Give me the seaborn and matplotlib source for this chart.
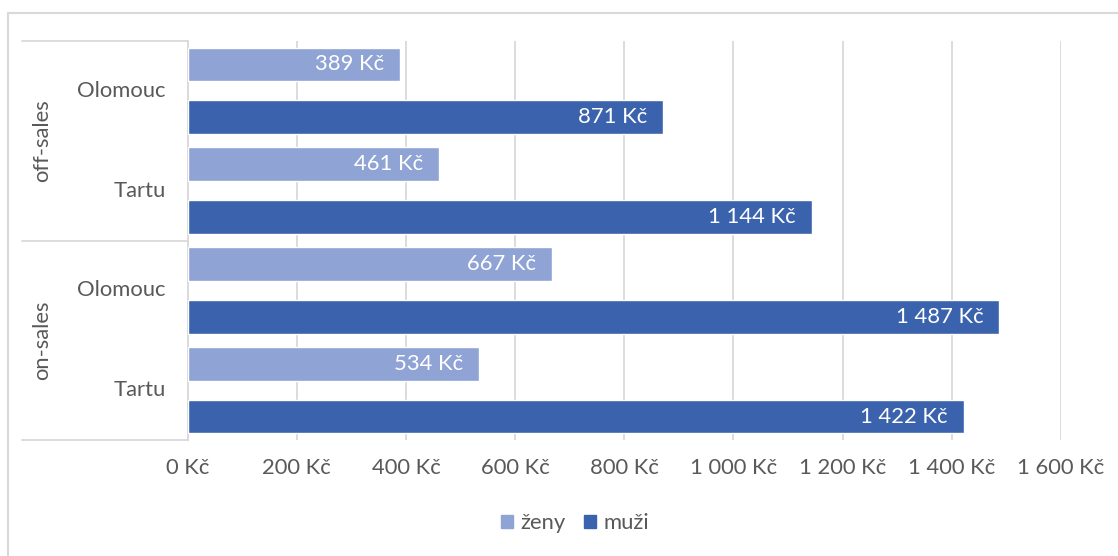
import matplotlib
matplotlib.use("Agg")
import matplotlib.pyplot as plt
import matplotlib.transforms as mtransforms
from matplotlib.ticker import FuncFormatter
import seaborn as sns
import pandas as pd

# ---- data -------------------------------------------------------------
channels = ["off-sales", "off-sales", "on-sales", "on-sales"]
cities = ["Olomouc", "Tartu", "Olomouc", "Tartu"]
genders = ["ženy", "muži"]
zeny = [389, 461, 667, 534]
muzi = [871, 1144, 1487, 1422]
x_ticks = [0, 200, 400, 600, 800, 1000, 1200, 1400, 1600]

colors = {"ženy": "#8FA3D5", "muži": "#3B63AD"}
text_gray = "#595959"
line_gray = "#D9D9D9"
FONT = "Lato"
FS = 15.8

rows = []
for ch, city, z, m in zip(channels, cities, zeny, muzi):
    key = f"{ch}|{city}"
    rows.append({"cat": key, "pohlaví": "ženy", "cena": z})
    rows.append({"cat": key, "pohlaví": "muži", "cena": m})
df = pd.DataFrame(rows)


def kc(v):
    return f"{int(round(v)):,}".replace(",", " ") + " Kč"


sns.set_theme(style="white")
plt.rcParams["font.family"] = [FONT, "DejaVu Sans"]

fig = plt.figure(figsize=(11.18, 5.56), dpi=100)
ax = fig.add_axes([187.5 / 1118, 1 - 440 / 556, (1061 - 187.5) / 1118, (440 - 41) / 556])

sns.barplot(data=df, y="cat", x="cena", hue="pohlaví", hue_order=genders,
            palette=colors, orient="h", width=1.06, gap=0.36,
            saturation=1, errorbar=None, ax=ax, zorder=3)

ax.set_xlim(0, 1600)
ax.set_ylim(3.5, -0.5)
ax.set_xticks(x_ticks)
ax.xaxis.set_major_formatter(FuncFormatter(lambda v, p: kc(v)))
ax.tick_params(axis="x", length=0, pad=13, labelsize=FS, labelcolor=text_gray)
ax.set_yticks([])
ax.set_xlabel("")
ax.set_ylabel("")
for s in ["top", "right", "bottom"]:
    ax.spines[s].set_visible(False)
ax.spines["left"].set_color(line_gray)
ax.spines["left"].set_linewidth(1.3)
ax.grid(axis="x", color=line_gray, linewidth=1.3, zorder=0)
ax.set_axisbelow(True)

# value labels inside bar ends
for cont, vals in zip(ax.containers, [zeny, muzi]):
    for patch, v in zip(cont.patches, vals):
        yc = patch.get_y() + patch.get_height() / 2
        ax.annotate(kc(v), xy=(v, yc), xytext=(-16, 0), textcoords="offset pixels",
                    ha="right", va="center", color="white", fontsize=FS, zorder=5)

# two-level category axis
tr = mtransforms.blended_transform_factory(ax.transAxes, ax.transData)
x_left = (22 - 187.5) / (1061 - 187.5)
x_city = (166 - 187.5) / (1061 - 187.5)
x_chan = (42 - 187.5) / (1061 - 187.5)
for y in [-0.5, 1.5, 3.5]:
    ax.plot([x_left, 0], [y, y], transform=tr, color=line_gray, lw=1.3, clip_on=False)
for i, city in enumerate(cities):
    ax.text(x_city, i, city, transform=tr, ha="right", va="center",
            fontsize=FS, color=text_gray)
for i, ch in enumerate(["off-sales", "on-sales"]):
    ax.text(x_chan, 2 * i + 0.5, ch, transform=tr, ha="center", va="center",
            rotation=90, fontsize=FS, color=text_gray)

# legend below the plot
ax.get_legend().remove()
handles = [plt.Rectangle((0, 0), 1, 1, color=colors[g]) for g in genders]
fig.legend(handles, genders, loc="center", bbox_to_anchor=(575 / 1118, 1 - 523 / 556),
           ncol=2, frameon=False, fontsize=FS, labelcolor=text_gray,
           handlelength=0.55, handleheight=0.55, handletextpad=0.35,
           columnspacing=0.8, borderpad=0)

# chart frame lines
fig.add_artist(plt.Line2D([8 / 1118, 8 / 1118], [0, 1 - 13 / 556], color=line_gray,
                          lw=1.5, transform=fig.transFigure))
fig.add_artist(plt.Line2D([8 / 1118, 1], [1 - 13 / 556, 1 - 13 / 556], color=line_gray,
                          lw=1.5, transform=fig.transFigure))

fig.savefig("out.png", dpi=100)
